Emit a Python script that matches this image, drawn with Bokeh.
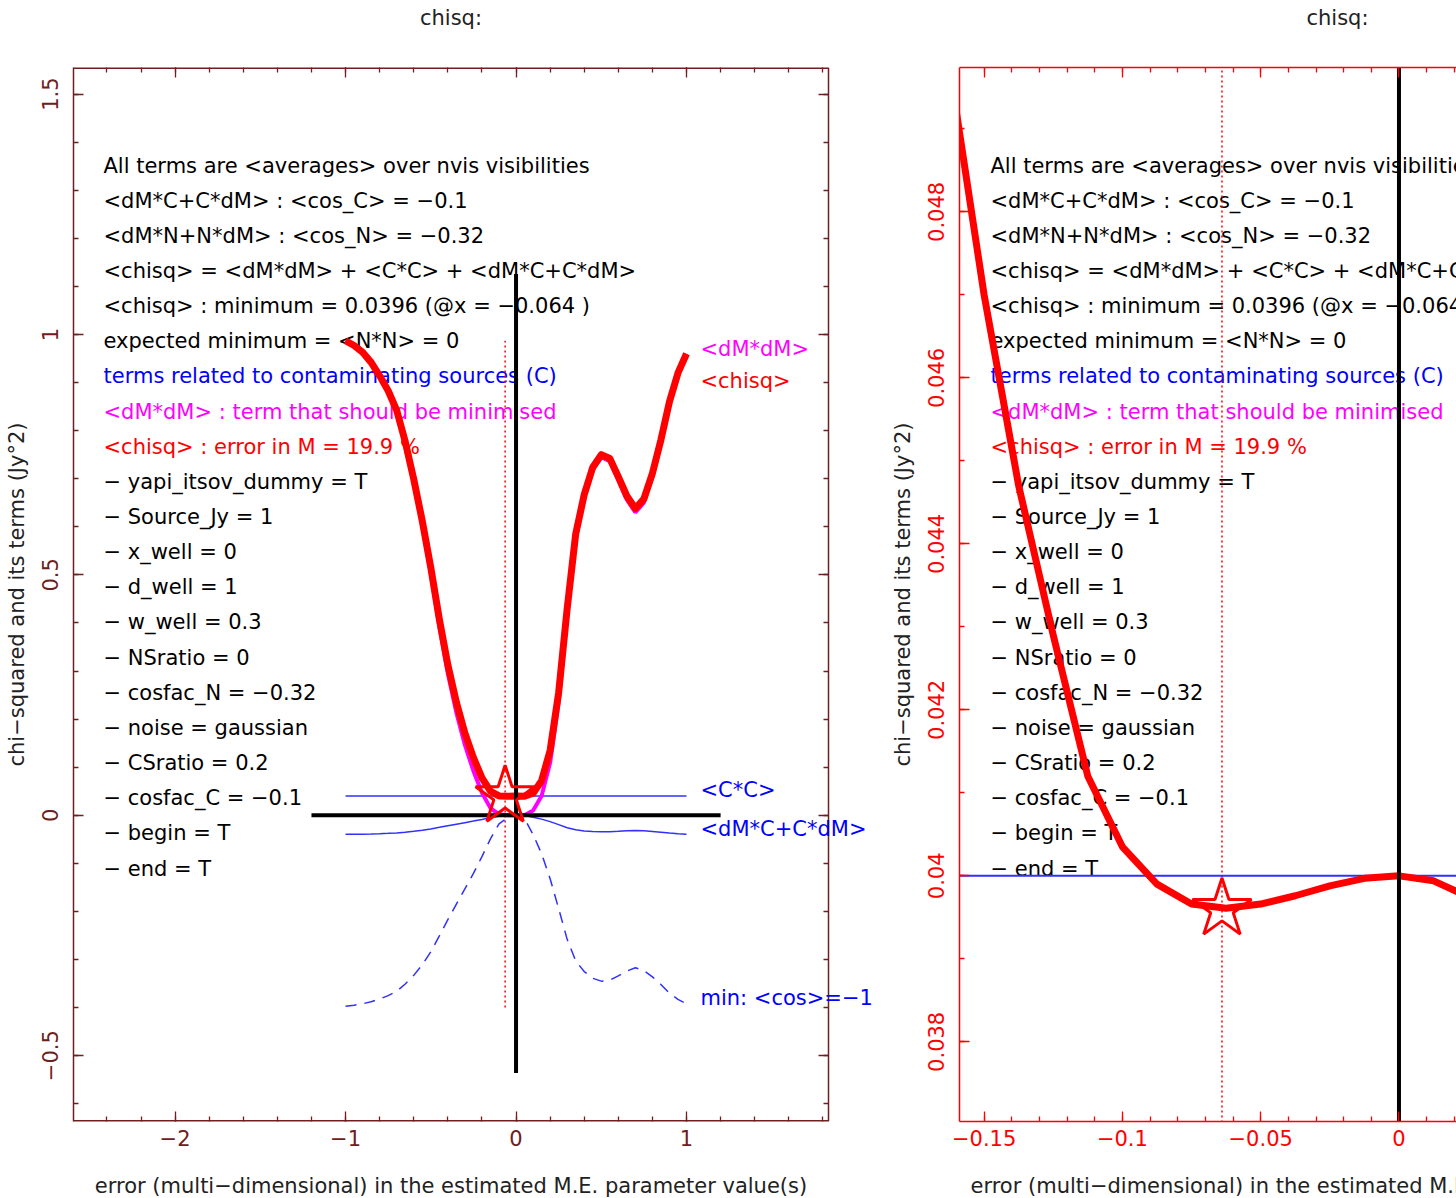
import numpy as np
from bokeh.plotting import figure
from bokeh.models import Range1d, LinearAxis, FixedTicker, ColumnDataSource, LabelSet, Grid
from bokeh.layouts import row, column
from bokeh.embed import file_html
from bokeh.resources import INLINE
from bokeh.core.properties import value, field

# ---------------- data ----------------
x_err = [-1.00, -0.95, -0.90, -0.85, -0.80, -0.75, -0.70, -0.65, -0.60, -0.55,
         -0.50, -0.45, -0.40, -0.35, -0.30, -0.25, -0.20, -0.15, -0.10, -0.05,
         0.00, 0.05, 0.10, 0.15, 0.20, 0.25, 0.30, 0.35, 0.40, 0.45,
         0.50, 0.55, 0.60, 0.65, 0.70, 0.75, 0.80, 0.85, 0.90, 0.95, 1.00]
chisq = [0.987, 0.977, 0.963, 0.942, 0.914, 0.883, 0.842, 0.777, 0.699, 0.612,
         0.515, 0.408, 0.313, 0.235, 0.171, 0.120, 0.078, 0.050, 0.0403, 0.0397,
         0.0400, 0.0396, 0.046, 0.072, 0.135, 0.255, 0.430, 0.585, 0.667, 0.724,
         0.750, 0.742, 0.704, 0.664, 0.638, 0.658, 0.711, 0.781, 0.860, 0.920, 0.960]
dMdM = [0.9867, 0.9765, 0.9622, 0.9407, 0.9122, 0.8806, 0.8387, 0.7721, 0.6922, 0.6031,
        0.5034, 0.3931, 0.2947, 0.2135, 0.1463, 0.0921, 0.0467, 0.0149, 0.0021, 0.0001,
        0.0, 0.0003, 0.010, 0.040, 0.109, 0.235, 0.416, 0.5753, 0.6595, 0.7179,
        0.7446, 0.7363, 0.6974, 0.6564, 0.6298, 0.6503, 0.7046, 0.7762, 0.8571, 0.9183, 0.9592]
cross_term = [-0.0397, -0.0395, -0.0392, -0.0388, -0.0382, -0.0375, -0.0366, -0.0351, -0.0333, -0.0311,
              -0.0284, -0.0251, -0.0217, -0.0185, -0.0153, -0.0121, -0.0086, -0.0049, -0.0018, -0.0005,
              0.0, -0.0007, -0.0040, -0.0080, -0.0132, -0.0194, -0.0258, -0.0303, -0.0325, -0.0339,
              -0.0345, -0.0343, -0.0334, -0.0324, -0.0317, -0.0323, -0.0336, -0.0352, -0.0370, -0.0383, -0.0392]
min_cos = [-0.397, -0.395, -0.392, -0.388, -0.382, -0.375, -0.366, -0.351, -0.333, -0.311,
           -0.284, -0.251, -0.217, -0.185, -0.153, -0.121, -0.086, -0.049, -0.018, -0.005,
           0.0, -0.007, -0.040, -0.080, -0.132, -0.194, -0.258, -0.303, -0.325, -0.339,
           -0.345, -0.343, -0.334, -0.324, -0.317, -0.323, -0.336, -0.352, -0.370, -0.383, -0.392]
cc_x = [-1.0, 1.0]
cc_y = [0.04, 0.04]

# zoomed panel (right)
x_zoom = [-0.1625, -0.1500, -0.1375, -0.1250, -0.1125, -0.1000, -0.0875, -0.0750,
          -0.0625, -0.0500, -0.0375, -0.0250, -0.0125, 0.0000, 0.0125, 0.0250]
chisq_zoom = [0.04975, 0.04700, 0.04470, 0.04290, 0.04120, 0.04035, 0.03990, 0.03966,
              0.03961, 0.03966, 0.03976, 0.03988, 0.03997, 0.04000, 0.03994, 0.03975]

# minimum marker and reference lines
min_x = [-0.064]
min_y = [0.0396]
min_line_x = [-0.064, -0.064]
min_line_y = [-0.400, 0.987]
axis_h_x = [-1.2, 1.2]
axis_h_y = [0.0, 0.0]
axis_v_x = [0.0, 0.0]
axis_v_y = [-0.536, 1.126]

# curve end labels (left panel)
end_labels = ["<dM*dM>", "<chisq>", "<C*C>", "<dM*C+C*dM>", "min: <cos>=\u22121"]
end_label_y = [0.970, 0.904, 0.053, -0.028, -0.380]
end_label_colors = ["#ff00ff", "#ff0000", "#0000ff", "#0000ff", "#0000ff"]

info_lines = [
    "All terms are <averages> over nvis visibilities",
    "<dM*C+C*dM> : <cos_C> = \u22120.1",
    "<dM*N+N*dM> : <cos_N> = \u22120.32",
    "<chisq> = <dM*dM> + <C*C> + <dM*C+C*dM>",
    "<chisq> : minimum = 0.0396  (@x = \u22120.064 )",
    "expected minimum = <N*N> = 0",
    "terms related to contaminating sources (C)",
    "<dM*dM> : term that should be minimised",
    "<chisq> : error in M = 19.9 %",
    "\u2212 yapi_itsov_dummy = T",
    "\u2212 Source_Jy = 1",
    "\u2212 x_well = 0",
    "\u2212 d_well = 1",
    "\u2212 w_well = 0.3",
    "\u2212 NSratio = 0",
    "\u2212 cosfac_N = \u22120.32",
    "\u2212 noise = gaussian",
    "\u2212 CSratio = 0.2",
    "\u2212 cosfac_C = \u22120.1",
    "\u2212 begin = T",
    "\u2212 end = T",
]
info_colors = ["#000000"] * 6 + ["#0000ff", "#ff00ff", "#ff0000"] + ["#000000"] * 12

left_xticks = [-2.0, -1.0, 0.0, 1.0]
left_xlabels = ["\u22122", "\u22121", "0", "1"]
left_yticks = [-0.5, 0.0, 0.5, 1.0, 1.5]
left_ylabels = ["\u22120.5", "0", "0.5", "1", "1.5"]
right_xticks = [-0.15, -0.1, -0.05, 0.0, 0.05, 0.1]
right_xlabels = ["\u22120.15", "\u22120.1", "\u22120.05", "0", "0.05", "0.1"]
right_yticks = [0.038, 0.040, 0.042, 0.044, 0.046, 0.048]
right_ylabels = ["0.038", "0.04", "0.042", "0.044", "0.046", "0.048"]

title_text = "chisq:"
xlabel_text = "error (multi\u2212dimensional) in the estimated M.E. parameter value(s)"
ylabel_text = "chi\u2212squared and its terms (Jy\u00b02)"

# ---------------- styling / layout ----------------
FONT = "DejaVu Sans"
FS = "21px"
MAROON = "#6e2020"
RED = "#ff0000"
MAGENTA = "#ff00ff"
BLUE_LINE = "#3030ff"
TXT = "#222222"
W = 1456
H = 1198
TOP_STRIP = 40
BOT_STRIP = 38
MAIN_H = H - TOP_STRIP - BOT_STRIP
FRAME_TOP = 67           # page pixel of frame top
FRAME_BOTTOM = 1121      # page pixel of frame bottom
FRAME_H = FRAME_BOTTOM - FRAME_TOP
B_TOP = FRAME_TOP - TOP_STRIP
B_BOTTOM = (H - BOT_STRIP) - FRAME_BOTTOM
P1_W = 880
P2_W = W - P1_W


def style_axis(ax, color, ticks, minor, labels, show, orient=None, line=True):
    ax.ticker = FixedTicker(ticks=ticks, minor_ticks=minor)
    ax.major_label_overrides = {t: l for t, l in zip(ticks, labels)}
    ax.axis_line_color = color if line else None
    ax.axis_line_width = 1.5
    ax.major_tick_line_color = color
    ax.minor_tick_line_color = color
    ax.major_tick_line_width = 1.3
    ax.minor_tick_line_width = 1.3
    ax.major_tick_in = 10
    ax.major_tick_out = 0
    ax.minor_tick_in = 5
    ax.minor_tick_out = 0
    ax.major_label_text_font = FONT
    ax.major_label_text_font_size = FS
    ax.major_label_text_color = color if show else None
    if orient is not None:
        ax.major_label_orientation = orient


def make_panel(width, bl, xr, yr, color, xt, xl, yt, yl, xminor, yminor, hline):
    p = figure(width=width, height=MAIN_H, x_range=Range1d(*xr), y_range=Range1d(*yr),
               output_backend="svg", toolbar_location=None, title=None,
               min_border_left=bl, min_border_right=0,
               min_border_top=B_TOP, min_border_bottom=B_BOTTOM)
    p.grid.visible = False
    p.background_fill_color = "white"
    p.border_fill_color = "white"
    p.outline_line_color = None
    xa = p.xaxis[0]
    style_axis(xa, color, xt, xminor, xl, True, line=hline)
    xa.major_label_standoff = 8
    ya = p.yaxis[0]
    style_axis(ya, color, yt, yminor, yl, True, "vertical")
    ya.major_label_standoff = 15
    ya.axis_label = ylabel_text
    ya.axis_label_text_font = FONT
    ya.axis_label_text_font_size = FS
    ya.axis_label_text_font_style = "normal"
    ya.axis_label_text_color = TXT
    ya.axis_label_standoff = 11
    top = LinearAxis()
    style_axis(top, color, xt, xminor, xl, False, line=hline)
    top.major_label_standoff = 0
    p.add_layout(top, "above")
    return p


def text_rows(p_range_y, n):
    y0, y1 = p_range_y
    py = 165 + 35.15 * np.arange(n)
    return list(y1 - (py - FRAME_TOP) / FRAME_H * (y1 - y0))


# ---------------- left panel ----------------
L_XVIS = (-2.596, 1.833)          # visible framed x extent (frame 73..828 px)
L_YR = (-0.6369, 1.5553)
L_PX = 755 / (L_XVIS[1] - L_XVIS[0])
L_XR = (L_XVIS[0], L_XVIS[0] + (P1_W - 73) / L_PX)   # canvas extends past the frame for labels
L_YMINOR = list(np.round(np.arange(-0.6, 1.51, 0.1), 3))
p1 = make_panel(P1_W, 73, L_XR, L_YR, MAROON, left_xticks, left_xlabels,
                left_yticks, left_ylabels,
                list(np.round(np.arange(-2.4, 1.81, 0.2), 3)), L_YMINOR, False)
# right side of the frame, with inward ticks
rax = LinearAxis(fixed_location=L_XVIS[1])
style_axis(rax, MAROON, left_yticks, L_YMINOR, left_ylabels, False)
rax.major_label_standoff = 0
p1.add_layout(rax, "right")
# top and bottom edges of the frame
p1.line([L_XVIS[0], L_XVIS[1]], [L_YR[1], L_YR[1]], line_color=MAROON, line_width=3)
p1.line([L_XVIS[0], L_XVIS[1]], [L_YR[0], L_YR[0]], line_color=MAROON, line_width=3)

tx_left = L_XVIS[0] + (103 - 73) / L_PX
info_src1 = ColumnDataSource(dict(x=[tx_left] * len(info_lines), y=text_rows(L_YR, len(info_lines)),
                                  text=info_lines, color=info_colors))
p1.add_layout(LabelSet(x="x", y="y", text="text", source=info_src1, text_color=field("color"),
                       text_font=value(FONT), text_font_size=FS, text_baseline="middle",
                       level="underlay"))

p1.line(min_line_x, min_line_y, line_color=RED, line_width=1.5, line_dash="2 3")
p1.line(cc_x, cc_y, line_color=BLUE_LINE, line_width=1.5)
p1.line(x_err, cross_term, line_color=BLUE_LINE, line_width=1.5)
p1.line(x_err, min_cos, line_color=BLUE_LINE, line_width=1.5, line_dash="11 8")
p1.line(x_err, dMdM, line_color=MAGENTA, line_width=4)
p1.line(x_err, chisq, line_color=RED, line_width=7, line_join="round")
p1.line(axis_h_x, axis_h_y, line_color="black", line_width=4)
p1.line(axis_v_x, axis_v_y, line_color="black", line_width=4)
p1.scatter(min_x, min_y, marker="star", size=62, fill_color=None, line_color=RED, line_width=3)

end_src = ColumnDataSource(dict(x=[1.082] * len(end_labels), y=end_label_y,
                                text=end_labels, color=end_label_colors))
p1.add_layout(LabelSet(x="x", y="y", text="text", source=end_src, text_color=field("color"),
                       text_font=value(FONT), text_font_size=FS, text_baseline="middle"))

# ---------------- right panel ----------------
R_XR = (-0.1589, 0.0208)
R_YR = (0.03704, 0.04974)
p2 = make_panel(P2_W, 79, R_XR, R_YR, RED, right_xticks, right_xlabels,
                right_yticks, right_ylabels,
                list(np.round(np.arange(-0.15, 0.021, 0.01), 4)),
                list(np.round(np.arange(0.037, 0.0495, 0.001), 4)), True)

R_PX = (P2_W - 79) / (R_XR[1] - R_XR[0])
tx_right = R_XR[0] + (990 - 959) / R_PX
info_src2 = ColumnDataSource(dict(x=[tx_right] * len(info_lines), y=text_rows(R_YR, len(info_lines)),
                                  text=info_lines, color=info_colors))
p2.add_layout(LabelSet(x="x", y="y", text="text", source=info_src2, text_color=field("color"),
                       text_font=value(FONT), text_font_size=FS, text_baseline="middle",
                       level="underlay"))

p2.line(min_line_x, min_line_y, line_color=RED, line_width=1.5, line_dash="2 3")
p2.line(cc_x, cc_y, line_color=BLUE_LINE, line_width=2)
p2.line(x_zoom, chisq_zoom, line_color=RED, line_width=7, line_join="round")
p2.line(axis_v_x, axis_v_y, line_color="black", line_width=4)
p2.scatter(min_x, min_y, marker="star", size=62, fill_color=None, line_color=RED, line_width=3)


# ---------------- title strip and x-label strip ----------------
def strip(h, xs, ys, texts, aligns):
    s = figure(width=W, height=h, x_range=Range1d(0, W), y_range=Range1d(0, h),
               output_backend="svg", toolbar_location=None, title=None,
               x_axis_location=None, y_axis_location=None, min_border=0)
    s.outline_line_color = None
    s.background_fill_color = "white"
    s.border_fill_color = "white"
    for obj in list(s.center) + list(s.renderers):
        if isinstance(obj, Grid):
            obj.visible = False
            obj.grid_line_color = None
    src = ColumnDataSource(dict(x=xs, y=ys, text=texts, align=aligns))
    s.text(x="x", y="y", text="text", source=src, text_font=value(FONT), text_font_size=FS,
           text_align=field("align"), text_baseline="middle", text_color=TXT)
    return s


panel_centres = [(73 + 828) / 2, (959 + 1715) / 2]
top_strip = strip(TOP_STRIP, panel_centres, [TOP_STRIP - 17] * 2, [title_text, title_text],
                  ["center", "center"])
bot_strip = strip(BOT_STRIP, [panel_centres[0], 970], [H - 1185] * 2, [xlabel_text, xlabel_text],
                  ["center", "left"])

layout = column(top_strip, row(p1, p2), bot_strip)
open("out.html", "w").write(file_html(layout, INLINE))
